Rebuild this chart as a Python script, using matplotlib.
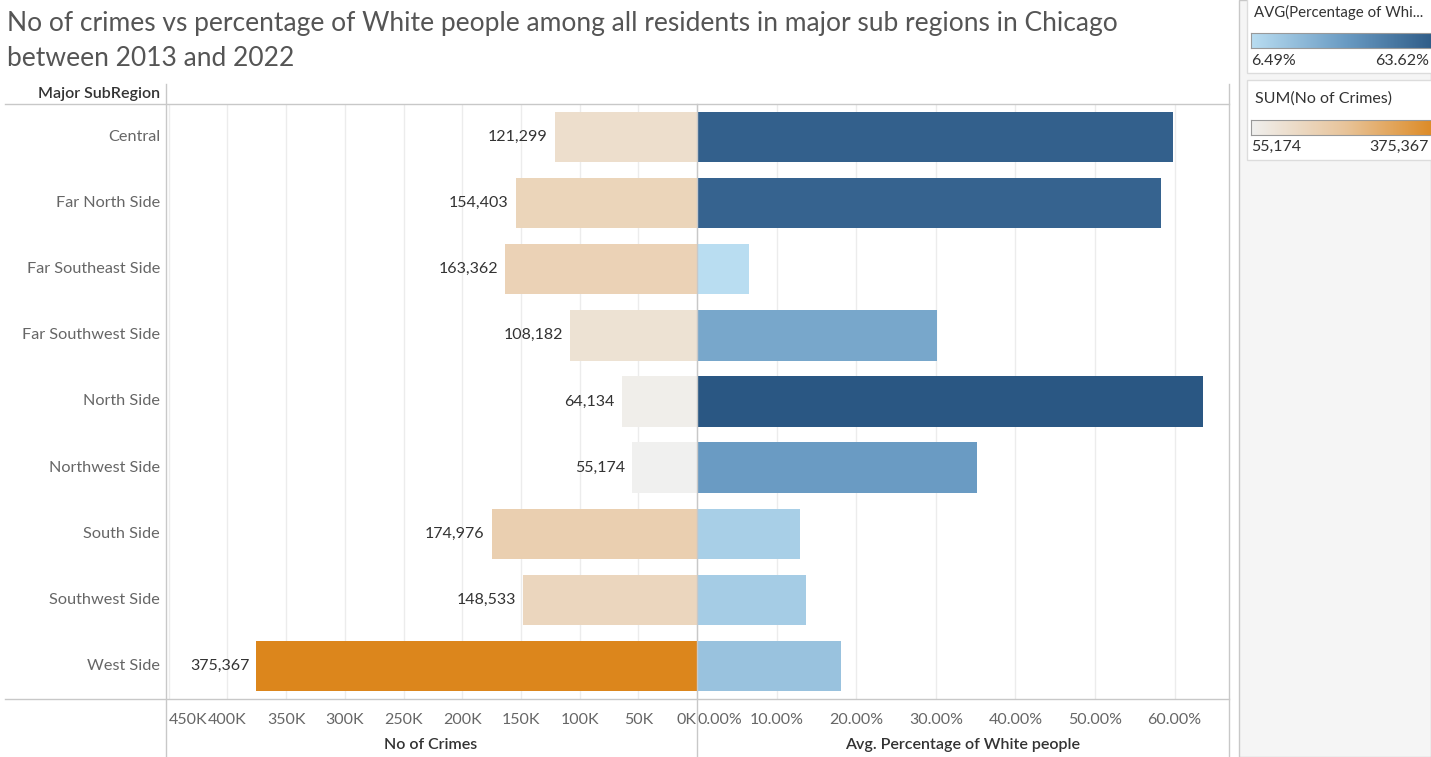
import numpy as np
import matplotlib
matplotlib.use("Agg")
import matplotlib.pyplot as plt
from matplotlib.colors import LinearSegmentedColormap, Normalize
from matplotlib.lines import Line2D
from matplotlib.patches import Rectangle

plt.rcParams['font.family'] = ['Lato', 'DejaVu Sans']

regions = ["Central", "Far North Side", "Far Southeast Side", "Far Southwest Side",
           "North Side", "Northwest Side", "South Side", "Southwest Side", "West Side"]
crimes = [121299, 154403, 163362, 108182, 64134, 55174, 174976, 148533, 375367]
pct_white = [59.8, 58.3, 6.49, 30.1, 63.62, 35.2, 12.9, 13.7, 18.1]

crime_ticks = [0, 50000, 100000, 150000, 200000, 250000, 300000, 350000, 400000, 450000]
crime_ticklabels = ["0K", "50K", "100K", "150K", "200K", "250K", "300K", "350K", "400K", "450K"]
pct_ticks = [0, 10, 20, 30, 40, 50, 60]
pct_ticklabels = ["0.00%", "10.00%", "20.00%", "30.00%", "40.00%", "50.00%", "60.00%"]

W, H = 1431, 757
blues = LinearSegmentedColormap.from_list("tab_blue", ["#b9ddf1", "#6a9bc3", "#2a5783"])
oranges = LinearSegmentedColormap.from_list("tab_orange", ["#f0f0ef", "#e8c49a", "#dc861c"])
bnorm = Normalize(min(pct_white), max(pct_white))
onorm = Normalize(min(crimes), max(crimes))


def fx(x):
    return x / W


def fy(y):
    return 1 - y / H


def box(x0, y0, x1, y1):
    return [fx(x0), fy(y1), fx(x1) - fx(x0), fy(y0) - fy(y1)]


fig = plt.figure(figsize=(W / 100, H / 100), dpi=100)

axl = fig.add_axes(box(166, 104, 697, 699))
axr = fig.add_axes(box(697, 104, 1228, 699))

y = np.arange(len(regions))
axl.barh(y, crimes, height=0.76, color=[oranges(onorm(v)) for v in crimes], zorder=2)
axr.barh(y, pct_white, height=0.76, color=[blues(bnorm(v)) for v in pct_white], zorder=2)

for yi, v in zip(y, crimes):
    axl.text(v + 6000, yi, f"{v:,}", ha="right", va="center", fontsize=11.5, color="#333333")

axl.set_xlim(452300, 0)
axr.set_xlim(0, 66.7)
for ax in (axl, axr):
    ax.set_ylim(len(regions) - 0.5, -0.5)
    ax.set_yticks([])
    for s in ax.spines.values():
        s.set_visible(False)
    ax.tick_params(axis="x", length=0, pad=10, labelsize=11.5, labelcolor="#666666")
    ax.grid(axis="x", color="#ececec", lw=1, zorder=0)
    ax.set_axisbelow(True)

axl.set_xticks(crime_ticks)
axl.set_xticklabels(crime_ticklabels)
axl.get_xticklabels()[0].set_ha("right")
axl.get_xticklabels()[-1].set_ha("left")
axr.set_xticks(pct_ticks)
axr.set_xticklabels(pct_ticklabels)
axr.get_xticklabels()[0].set_ha("left")

# row labels
for yi, name in zip(y, regions):
    fig.text(fx(160), fy(137 + yi * 66.1), name, ha="right", va="center",
             fontsize=11.7, color="#666666")

# frame lines
line_c = "#c8c8c8"
for (x0, y0, x1, y1) in [(5, 104, 1229, 104), (5, 699, 1229, 699),
                         (166, 84, 166, 757), (697, 104, 697, 757), (1229, 84, 1229, 757)]:
    fig.add_artist(Line2D([fx(x0), fx(x1)], [fy(y0), fy(y1)], color=line_c, lw=1))

fig.text(fx(7), fy(23), "No of crimes vs percentage of White people among all residents in major sub regions in Chicago",
         fontsize=19, color="#555555", va="center")
fig.text(fx(7), fy(59), "between 2013 and 2022",
         fontsize=19, color="#555555", va="center")
fig.text(fx(160), fy(94), "Major SubRegion", ha="right", va="center", fontsize=11.5,
         color="#333333", fontweight="semibold")
fig.text(fx(431), fy(745), "No of Crimes", ha="center", va="center", fontsize=11.5,
         color="#333333", fontweight="semibold")
fig.text(fx(963), fy(745), "Avg. Percentage of White people", ha="center", va="center",
         fontsize=11.5, color="#333333", fontweight="semibold")

# legend panel
fig.add_artist(Rectangle((fx(1239), 0), 1 - fx(1239), 1, transform=fig.transFigure,
                         facecolor="#f5f5f5", edgecolor=line_c, lw=1, zorder=-2))
for (y0, y1) in [(-2, 73), (80, 160)]:
    fig.add_artist(Rectangle((fx(1247), fy(y1)), 1, fy(y0) - fy(y1), transform=fig.transFigure,
                             facecolor="white", edgecolor="#dcdcdc", lw=1, zorder=-1))

grad = np.linspace(0, 1, 256).reshape(1, -1)
for (y0, y1, cmap) in [(33, 48, blues), (120, 135, oranges)]:
    cax = fig.add_axes(box(1251, y0, 1440, y1))
    cax.imshow(grad, aspect="auto", cmap=cmap)
    cax.set_xticks([])
    cax.set_yticks([])
    for s in cax.spines.values():
        s.set_color("#999999")

fig.text(fx(1254), fy(12), "AVG(Percentage of Whi...", fontsize=10.8, color="#333333", va="center")
fig.text(fx(1251), fy(61), f"{min(pct_white):.2f}%", fontsize=11.5, color="#333333", va="center")
fig.text(fx(1429), fy(61), f"{max(pct_white):.2f}%", fontsize=11.5, color="#333333",
         va="center", ha="right")
fig.text(fx(1255), fy(99), "SUM(No of Crimes)", fontsize=11.5, color="#333333", va="center")
fig.text(fx(1251), fy(147), f"{min(crimes):,}", fontsize=11.5, color="#333333", va="center")
fig.text(fx(1429), fy(147), f"{max(crimes):,}", fontsize=11.5, color="#333333",
         va="center", ha="right")

fig.savefig("out.png", dpi=100)
